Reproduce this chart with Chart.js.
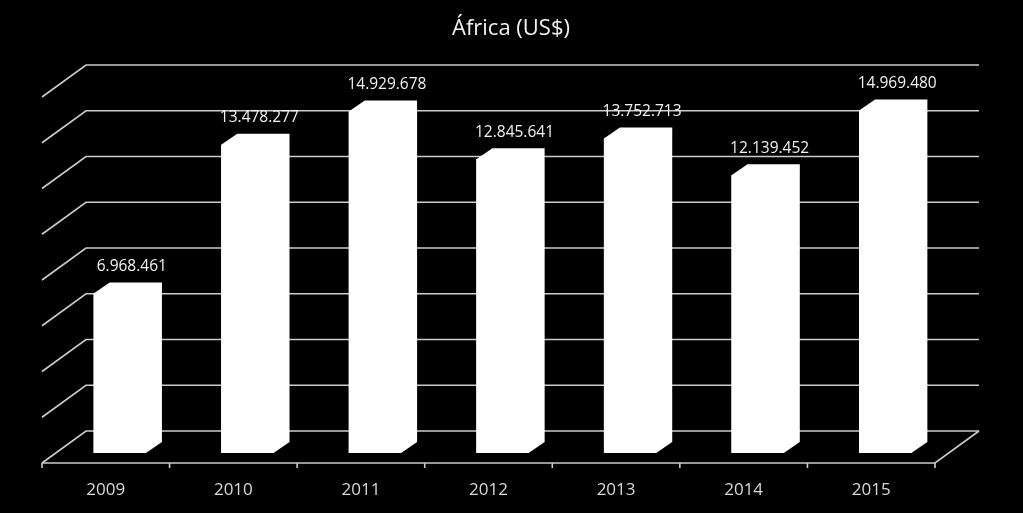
<!DOCTYPE html>
<html lang="pt">
<head>
    <meta charset="UTF-8">
    <script src="https://cdn.jsdelivr.net/npm/chart.js@4.4.0/dist/chart.umd.min.js"></script>
    <title>África (US$)</title>
    <style>
        body { margin: 0; background: #000; }
        canvas { display: block; }
    </style>
</head>
<body>
    <canvas id="myChart" width="1023" height="513"></canvas>
    <script>
    // data
    var years = ['2009', '2010', '2011', '2012', '2013', '2014', '2015'];
    var values = [6968461, 13478277, 14929678, 12845641, 13752713, 12139452, 14969480];
    var gridSteps = [0, 2000000, 4000000, 6000000, 8000000, 10000000, 12000000, 14000000, 16000000];
    var chartTitle = 'África (US$)';

    // fake 3D look
    var barDx = 16, barDy = -11;     // bar depth
    var floorDx = -14, floorDy = 10; // bar front plane -> floor front edge

    function fmt(n) {
        return String(n).replace(/\B(?=(\d{3})+(?!\d))/g, '.');
    }

    var threeD = {
        id: 'threeD',
        beforeDatasetsDraw: function(chart) {
            var ctx = chart.ctx;
            var ys = chart.scales.y, xs = chart.scales.x;
            var left = xs.left, right = xs.right;
            ctx.save();
            ctx.strokeStyle = '#cccccc';
            ctx.lineWidth = 1.6;
            gridSteps.forEach(function(v) {
                var y = ys.getPixelForValue(v);
                ctx.beginPath();
                ctx.moveTo(left + floorDx, y + floorDy);
                ctx.lineTo(left + floorDx + 44, y + floorDy - 32);
                ctx.lineTo(right + floorDx + 44, y + floorDy - 32);
                ctx.stroke();
            });
            // floor
            var y0 = ys.getPixelForValue(0);
            ctx.beginPath();
            ctx.moveTo(left + floorDx, y0 + floorDy);
            ctx.lineTo(right + floorDx, y0 + floorDy);
            ctx.lineTo(right + floorDx + 44, y0 + floorDy - 32);
            ctx.stroke();
            // tick marks
            var w = (right - left) / years.length;
            for (var k = 0; k <= years.length; k++) {
                var tx = left + floorDx + w * k;
                ctx.beginPath();
                ctx.moveTo(tx, y0 + floorDy);
                ctx.lineTo(tx, y0 + floorDy + 5);
                ctx.stroke();
            }
            // year labels
            ctx.fillStyle = '#d9d9d9';
            ctx.font = '17px "Open Sans"';
            ctx.textAlign = 'center';
            ctx.textBaseline = 'middle';
            years.forEach(function(yr, i) {
                ctx.fillText(yr, xs.getPixelForValue(i) + floorDx, 490);
            });
            // title
            ctx.fillStyle = '#f2f2f2';
            ctx.font = '22px "Open Sans"';
            ctx.fillText(chartTitle, 511, 29);
            ctx.restore();
        },
        afterDatasetsDraw: function(chart) {
            var ctx = chart.ctx;
            var meta = chart.getDatasetMeta(0);
            ctx.save();
            meta.data.forEach(function(bar, i) {
                var x0 = bar.x - bar.width / 2, x1 = bar.x + bar.width / 2;
                var top = bar.y, bottom = bar.base;
                ctx.fillStyle = '#ffffff';
                ctx.beginPath();
                ctx.moveTo(x0, top);
                ctx.lineTo(x0 + barDx, top + barDy);
                ctx.lineTo(x1 + barDx, top + barDy);
                ctx.lineTo(x1 + barDx, bottom + barDy);
                ctx.lineTo(x1, bottom);
                ctx.lineTo(x0, bottom);
                ctx.closePath();
                ctx.fill();
                ctx.fillStyle = '#f2f2f2';
                ctx.font = '15.5px "Open Sans"';
                ctx.textAlign = 'center';
                ctx.textBaseline = 'middle';
                ctx.fillText(fmt(values[i]), bar.x + 12, top - 27);
            });
            ctx.restore();
        }
    };

    var ctx = document.getElementById('myChart').getContext('2d');
    var myChart = new Chart(ctx, {
        type: 'bar',
        data: {
            labels: years,
            datasets: [{
                data: values,
                backgroundColor: '#ffffff',
                borderWidth: 0,
                barPercentage: 0.41,
                categoryPercentage: 1
            }]
        },
        options: {
            responsive: false,
            animation: false,
            devicePixelRatio: 1,
            layout: { padding: { left: 56, right: 74, top: 87, bottom: 60 } },
            plugins: {
                legend: { display: false },
                tooltip: { enabled: false },
                title: { display: false }
            },
            scales: {
                x: { display: false },
                y: { display: false, min: 0, max: 16000000 }
            }
        },
        plugins: [threeD]
    });
    </script>
</body>
</html>
